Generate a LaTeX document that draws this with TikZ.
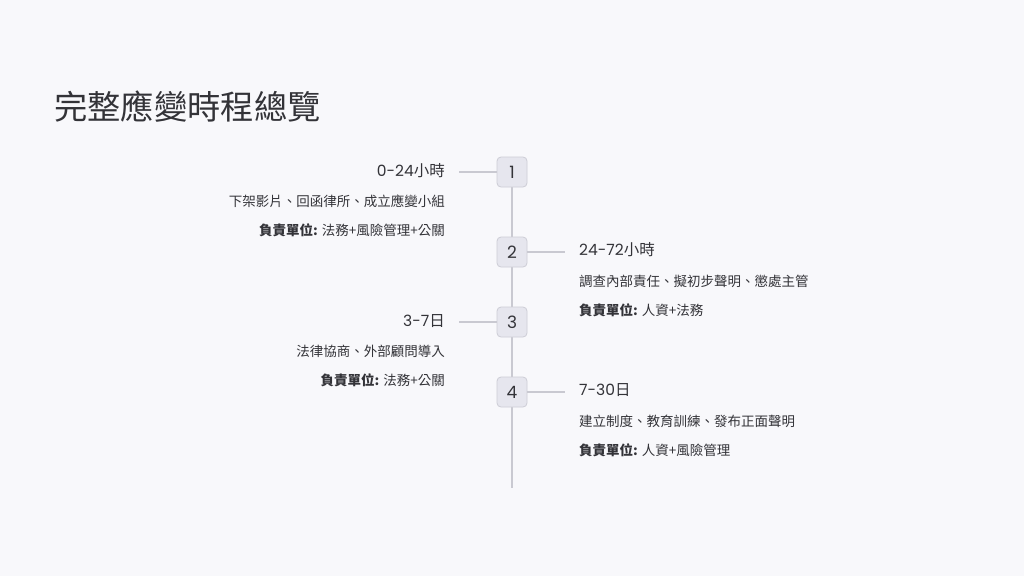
\documentclass[tikz,border=0pt]{standalone}
\usepackage{fontspec}
\setmainfont{Noto Sans CJK TC}
\newfontfamily\latinfont{Poppins}
\usetikzlibrary{positioning}
\definecolor{bgcol}{HTML}{F8F8FB}
\definecolor{boxfill}{HTML}{E6E6EE}
\definecolor{boxline}{HTML}{CDCDD6}
\definecolor{linecol}{HTML}{C9C9D1}
\definecolor{textcol}{HTML}{333338}
\tikzset{
    %Define style for step boxes
    stepbox/.style={
           rectangle,
           rounded corners=4pt,
           draw=boxline, line width=0.8pt,
           fill=boxfill,
           minimum width=30pt,
           minimum height=30pt,
           inner sep=0pt,
           font=\latinfont\fontsize{17}{17}\selectfont,
           text=textcol},
    phase/.style={
           inner sep=0pt,
           font=\fontsize{15.5}{18}\selectfont,
           text=textcol},
    desc/.style={
           inner sep=0pt,
           font=\fontsize{13.5}{15}\selectfont,
           text=textcol},
    % Define connector style
    link/.style={
           draw=linecol,
           line width=1.3pt}
}
\begin{document}
\begin{tikzpicture}[x=1pt,y=-1pt]
\fill[bgcol] (0,0) rectangle (1024,576);
\useasboundingbox (0,0) rectangle (1024,576);
 %title
\node[anchor=west, inner sep=0pt, text=textcol, font=\fontsize{33.3}{36}\selectfont] (title) at (54,107) {完整應變時程總覽};
 %timeline
\coordinate (top) at (512,172);
\coordinate (bottom) at (512,488);
\draw[link] (top) -- (bottom);
 %steps
\node[stepbox] (s1) at (512,172) {1};
\node[stepbox] (s2) at (512,252) {2};
\node[stepbox] (s3) at (512,322) {3};
\node[stepbox] (s4) at (512,392) {4};
\coordinate (c1) at (459,172);
\coordinate (c2) at (565,252);
\coordinate (c3) at (459,322);
\coordinate (c4) at (565,392);
\draw[link] (s1.west) -- (c1);
\draw[link] (s2.east) -- (c2);
\draw[link] (s3.west) -- (c3);
\draw[link] (s4.east) -- (c4);
 %left side
\node[phase, anchor=east] (p1) at (445,171) {{\latinfont 0-24}小時};
\node[desc, anchor=east] (d1) at (445,201) {下架影片、回函律所、成立應變小組};
\node[desc, anchor=east] (r1) at (445,230) {\textbf{負責單位:} 法務+風險管理+公關};
\node[phase, anchor=east] (p3) at (445,321) {{\latinfont 3-7}日};
\node[desc, anchor=east] (d3) at (445,351) {法律協商、外部顧問導入};
\node[desc, anchor=east] (r3) at (445,380) {\textbf{負責單位:} 法務+公關};
 %right side
\node[phase, anchor=west] (p2) at (579,250) {{\latinfont 24-72}小時};
\node[desc, anchor=west] (d2) at (579,281) {調查內部責任、擬初步聲明、懲處主管};
\node[desc, anchor=west] (r2) at (579,310) {\textbf{負責單位:} 人資+法務};
\node[phase, anchor=west] (p4) at (579,390) {{\latinfont 7-30}日};
\node[desc, anchor=west] (d4) at (579,421) {建立制度、教育訓練、發布正面聲明};
\node[desc, anchor=west] (r4) at (579,450) {\textbf{負責單位:} 人資+風險管理};
\end{tikzpicture}
\end{document}
